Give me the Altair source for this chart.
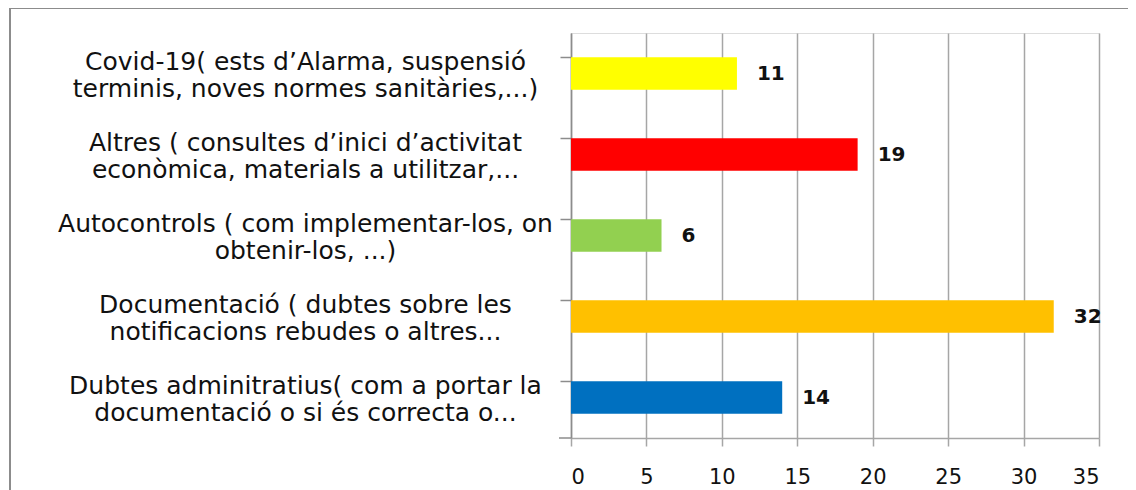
import altair as alt
import pandas as pd

categories = [
    "Covid-19( ests d’Alarma, suspensió|terminis, noves normes sanitàries,...)",
    "Altres ( consultes d’inici d’activitat|econòmica, materials a utilitzar,...",
    "Autocontrols ( com implementar-los, on|obtenir-los, ...)",
    "Documentació ( dubtes sobre les|notificacions rebudes o altres...",
    "Dubtes adminitratius( com a portar la|documentació o si és correcta o...",
]
values = [11, 19, 6, 32, 14]
colors = ["#FFFF00", "#FF0000", "#92D050", "#FFC000", "#0070C0"]
x_ticks = [0, 5, 10, 15, 20, 25, 30, 35]

df = pd.DataFrame({"cat": categories, "val": values, "color": colors})

W, H = 528, 405

y_enc = alt.Y(
    "cat:N",
    sort=categories,
    scale=alt.Scale(paddingInner=0.6, paddingOuter=0.3),
    axis=alt.Axis(
        title=None,
        bandPosition=0,
        labelExpr="split(datum.label, '|')",
        labelAlign="center",
        labelBaseline="middle",
        labelPadding=255,
        labelOffset=-12,
        labelFont="DejaVu Sans",
        labelFontSize=25,
        labelLineHeight=27,
        labelColor="#111111",
        labelLimit=0,
        tickSize=11,
        tickColor="#8c8c8c",
        domainColor="#8c8c8c",
        domainWidth=1.5,
        tickWidth=1.5,
        grid=False,
    ),
)

x_enc = alt.X(
    "val:Q",
    scale=alt.Scale(domain=[0, 35], nice=False),
    axis=alt.Axis(
        title=None,
        values=x_ticks,
        grid=True,
        gridColor="#a6a6a6",
        gridWidth=1.5,
        tickSize=8,
        tickColor="#a6a6a6",
        tickWidth=1.5,
        domainColor="#a6a6a6",
        domainWidth=1.5,
        labelFont="DejaVu Sans",
        labelFontSize=21,
        labelPadding=20,
        labelColor="#111111",
    ),
)

bars = alt.Chart(df).mark_bar().encode(
    y=y_enc,
    x=x_enc,
    color=alt.Color("color:N", scale=None),
)

texts = alt.Chart(df).mark_text(
    align="left", baseline="middle", dx=20, font="DejaVu Sans",
    fontSize=20, fontWeight="bold", color="#111111"
).encode(
    y=alt.Y("cat:N", sort=categories),
    x=alt.X("val:Q"),
    text=alt.Text("val:Q"),
)

border = alt.Chart(pd.DataFrame({"a": [0]})).mark_rect(
    fill=None, stroke="#8c8c8c", strokeWidth=2, clip=False
).encode(
    x=alt.value(-561), x2=alt.value(W + 60),
    y=alt.value(-25), y2=alt.value(H + 80),
)

bottom_tick = alt.Chart(pd.DataFrame({"a": [0]})).mark_rule(
    color="#8c8c8c", strokeWidth=1.5, clip=False
).encode(
    x=alt.value(-12), x2=alt.value(0), y=alt.value(H),
)

chart = alt.layer(border, bars, texts, bottom_tick).properties(
    width=W, height=H,
    autosize=alt.AutoSizeParams(type="none"),
    padding={"left": 563, "top": 25, "right": 29, "bottom": 52},
).configure_view(stroke=None).configure(background="white")

chart.save("out.html", embed_options={"renderer": "svg", "actions": False})
